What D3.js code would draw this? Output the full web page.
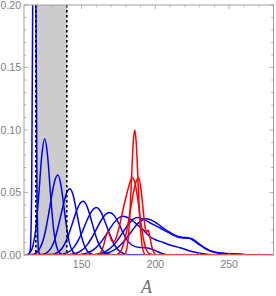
<!DOCTYPE html>
<html>
<head>
<meta charset="utf-8">
<script src="https://cdn.jsdelivr.net/npm/d3@7"></script>
<style>
  body { margin: 0; background: #fff; }
  svg { display: block; }
</style>
</head>
<body>
<script>
// tick values
const xMajorTicks = [150, 200, 250];
const yMajorTicks = [0, 0.05, 0.1, 0.15, 0.2];
// shaded window on A
const bandRange = [119, 140];

// blue family, [A, P]
const blueCurves = [
  [[111,0],[114,0],[115.2,0.004],[116.2,0.05],[117.2,0.28],[118,0.40],[118.8,0.28],[119.8,0.05],[120.8,0.004],[122,0],[280,0]],
  [[111,0],[113,0.0003],[115,0.002],[117,0.007],[119,0.021],[121,0.048],[123,0.079],[125,0.093],[127,0.079],[129,0.048],[131,0.021],[133,0.007],[135,0.002],[137,0.0003],[140,0],[280,0]],
  [[111,0],[118,0.0009],[120,0.0025],[122,0.006],[124,0.012],[126,0.022],[128,0.035],[130,0.049],[132,0.060],[134,0.064],[136,0.056],[138,0.039],[140,0.021],[142,0.0087],[144,0.0028],[146,0.0007],[149,0],[280,0]],
  [[111,0],[124,0.0006],[126,0.0015],[128,0.0035],[130,0.007],[132,0.013],[134,0.022],[136,0.032],[138,0.042],[140,0.050],[142,0.053],[144,0.049],[146,0.0385],[148,0.026],[150,0.0147],[152,0.0072],[154,0.003],[156,0.001],[159,0],[280,0]],
  [[111,0],[131,0.0007],[133,0.0016],[135,0.0031],[137,0.0058],[139,0.0099],[141,0.0155],[143,0.0225],[145,0.0298],[147,0.0366],[149,0.0413],[151,0.043],[153,0.0407],[155,0.0344],[157,0.0261],[159,0.0177],[161,0.0107],[163,0.0058],[165,0.0028],[167,0.0012],[170,0.0003],[173,0],[280,0]],
  [[111,0],[136,0.0004],[139,0.0012],[142,0.003],[145,0.0065],[148,0.0123],[151,0.0201],[154,0.0286],[157,0.0353],[160,0.038],[163,0.0346],[166,0.0262],[169,0.0167],[172,0.0087],[175,0.0038],[178,0.0014],[181,0.0004],[185,0],[280,0]],
  [[111,0],[142,0.0004],[145,0.001],[148,0.0022],[151,0.0046],[154,0.0085],[157,0.014],[160,0.0206],[163,0.0272],[166,0.0322],[169,0.034],[172,0.0317],[175,0.0257],[178,0.018],[181,0.0115],[184,0.008],[187,0.0065],[190,0.006],[193,0.0058],[196,0.0052],[200,0.0035],[204,0.0015],[208,0.0003],[212,0],[280,0]],
  [[111,0],[148,0.0003],[151,0.0008],[154,0.0017],[157,0.0034],[160,0.0061],[163,0.0101],[166,0.0151],[169,0.0207],[172,0.0259],[175,0.0296],[178,0.031],[181,0.030],[184,0.028],[187,0.025],[190,0.022],[193,0.0185],[196,0.015],[200,0.0122],[205,0.0102],[210,0.008],[215,0.0063],[219,0.005],[224,0.003],[230,0.0014],[236,0.0005],[242,0],[280,0]],
  [[111,0],[158,0.0003],[161,0.0008],[164,0.0017],[167,0.0033],[170,0.006],[173,0.0098],[176,0.0146],[179,0.02],[182,0.025],[185,0.0287],[188,0.030],[192,0.0285],[196,0.026],[200,0.0235],[204,0.021],[208,0.0185],[212,0.016],[216,0.014],[220,0.0135],[223,0.0133],[226,0.0115],[230,0.008],[234,0.005],[238,0.0028],[242,0.0016],[248,0.001],[255,0.0006],[262,0.0002],[270,0],[280,0]],
  [[111,0],[161,0.0003],[164,0.0007],[167,0.0014],[170,0.0027],[173,0.0047],[176,0.0076],[179,0.0114],[182,0.016],[185,0.0207],[188,0.0251],[191,0.0279],[194,0.029],[198,0.0275],[202,0.0245],[206,0.021],[210,0.018],[214,0.0155],[218,0.0142],[222,0.0138],[225,0.0128],[229,0.0095],[233,0.006],[237,0.0035],[242,0.002],[248,0.0012],[254,0.0009],[260,0.0005],[268,0.0001],[274,0],[280,0]]
];

// red family
const redCurves = [
  [[111,0],[178,0],[179,0.0006],[180,0.0024],[181,0.0076],[182,0.019],[183,0.0395],[184,0.066],[185,0.090],[186,0.10],[187,0.090],[188,0.066],[189,0.0395],[190,0.019],[191,0.0076],[192,0.0024],[193,0.0006],[194,0],[280,0]],
  [[111,0],[160,0],[163,0.002],[165,0.008],[166.5,0.015],[168,0.0186],[169.3,0.015],[170.5,0.011],[172,0.011],[174,0.016],[176,0.025],[178,0.036],[180,0.046],[182,0.055],[184.3,0.062],[186.3,0.057],[188,0.045],[190,0.027],[192,0.012],[194,0.004],[196,0.001],[199,0],[280,0]],
  [[111,0],[171,0],[174,0.0005],[176.5,0.003],[178.5,0.009],[180.5,0.019],[182.5,0.032],[184.5,0.046],[186.5,0.057],[188.7,0.062],[190.5,0.05],[192,0.033],[193.2,0.021],[194,0.018],[195,0.020],[196.2,0.015],[197.5,0.007],[199,0.002],[201,0],[280,0]]
];

const width = 276;
const height = 296;
const plot = { left: 24, right: 273.5, top: 5, bottom: 255 };
const frameColor = "#a0a0a0";
const labelColor = "#808080";

const x = d3.scaleLinear().domain([111, 280]).range([plot.left, plot.right]);
const y = d3.scaleLinear().domain([0, 0.2]).range([plot.bottom, plot.top]);

const svg = d3.select("body").append("svg")
  .attr("width", width)
  .attr("height", height);

svg.append("clipPath").attr("id", "clip")
  .append("rect")
  .attr("x", plot.left).attr("y", plot.top)
  .attr("width", plot.right - plot.left)
  .attr("height", plot.bottom - plot.top);

const g = svg.append("g").attr("clip-path", "url(#clip)");

// grey window
g.append("rect")
  .attr("x", x(bandRange[0]))
  .attr("y", plot.top)
  .attr("width", x(bandRange[1]) - x(bandRange[0]))
  .attr("height", plot.bottom - plot.top)
  .attr("fill", "#cccccc");

const line = d3.line()
  .x(d => x(d[0]))
  .y(d => y(d[1]))
  .curve(d3.curveMonotoneX);

g.selectAll(".blue")
  .data(blueCurves)
  .join("path")
  .attr("class", "blue")
  .attr("d", line)
  .attr("fill", "none")
  .attr("stroke", "#0000ff")
  .attr("stroke-width", 1.5);

g.selectAll(".red")
  .data(redCurves)
  .join("path")
  .attr("class", "red")
  .attr("d", line)
  .attr("fill", "none")
  .attr("stroke", "#ff0000")
  .attr("stroke-width", 1.5);

// dashed edges of the window
g.selectAll(".edge")
  .data(bandRange)
  .join("line")
  .attr("class", "edge")
  .attr("x1", d => x(d)).attr("x2", d => x(d))
  .attr("y1", plot.top).attr("y2", plot.bottom)
  .attr("stroke", "#000")
  .attr("stroke-width", 1.6)
  .attr("stroke-dasharray", "2.5,2.5");

// frame
svg.append("rect")
  .attr("x", plot.left).attr("y", plot.top)
  .attr("width", plot.right - plot.left)
  .attr("height", plot.bottom - plot.top)
  .attr("fill", "none")
  .attr("stroke", frameColor)
  .attr("stroke-width", 1);

// ticks on all four sides, pointing inward
const xMinor = d3.range(120, 280, 10).filter(v => !xMajorTicks.includes(v));
const yMinor = d3.range(1, 20).map(i => i / 100).filter(v => Math.round(v * 100) % 5 !== 0);
const ticks = svg.append("g").attr("stroke", frameColor).attr("stroke-width", 0.8);

[[xMajorTicks, 4], [xMinor, 2.3]].forEach(([vals, len]) => {
  vals.forEach(v => {
    ticks.append("line").attr("x1", x(v)).attr("x2", x(v)).attr("y1", plot.bottom).attr("y2", plot.bottom - len);
    ticks.append("line").attr("x1", x(v)).attr("x2", x(v)).attr("y1", plot.top).attr("y2", plot.top + len);
  });
});
[[yMajorTicks, 4], [yMinor, 2.3]].forEach(([vals, len]) => {
  vals.forEach(v => {
    ticks.append("line").attr("y1", y(v)).attr("y2", y(v)).attr("x1", plot.left).attr("x2", plot.left + len);
    ticks.append("line").attr("y1", y(v)).attr("y2", y(v)).attr("x1", plot.right).attr("x2", plot.right - len);
  });
});

// tick labels
svg.selectAll(".ylab")
  .data(yMajorTicks)
  .join("text")
  .attr("class", "ylab")
  .attr("x", plot.left - 3)
  .attr("y", d => y(d))
  .attr("dy", "0.35em")
  .attr("text-anchor", "end")
  .style("font-family", "Liberation Sans, Arial, sans-serif")
  .style("font-size", "10.5px")
  .attr("fill", labelColor)
  .text(d => d3.format(".2f")(d));

svg.selectAll(".xlab")
  .data(xMajorTicks)
  .join("text")
  .attr("class", "xlab")
  .attr("x", d => x(d))
  .attr("y", plot.bottom + 13)
  .attr("text-anchor", "middle")
  .style("font-family", "Liberation Sans, Arial, sans-serif")
  .style("font-size", "10.5px")
  .attr("fill", labelColor)
  .text(d => d);

// axis label
svg.append("text")
  .attr("x", 146.5)
  .attr("y", 293)
  .attr("text-anchor", "middle")
  .style("font-family", "Liberation Serif, Times New Roman, serif")
  .style("font-style", "italic")
  .style("font-size", "18px")
  .attr("fill", "#707070")
  .text("A");
</script>
</body>
</html>
